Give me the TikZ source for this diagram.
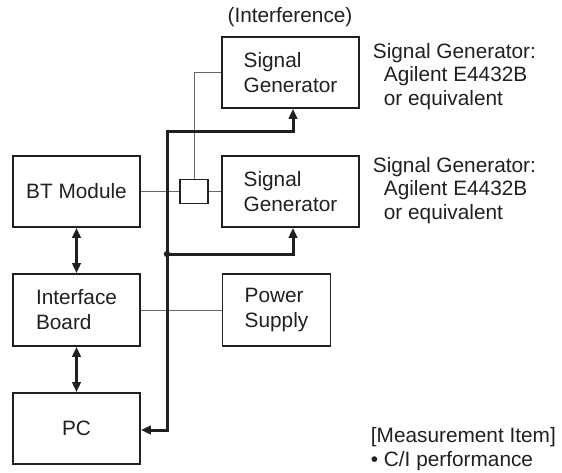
\documentclass[tikz,border=0pt]{standalone}
\usepackage{fontspec}
\setmainfont{Liberation Sans}
\usetikzlibrary{arrows.meta}
\definecolor{ink}{HTML}{231F20}
\newcommand\boxfont{\fontsize{20.8pt}{25pt}\selectfont}
\newcommand\notefont{\fontsize{20.8pt}{23.5pt}\selectfont}
\begin{document}
\begin{tikzpicture}[x=1pt,y=-1pt,
  box/.style={draw=ink, line width=1.8pt, inner sep=0pt, align=left, font=\boxfont, text=ink},
  thinl/.style={draw=black!60, line width=1pt},
  bus/.style={draw=ink, line width=3pt},
  tipa/.tip={Triangle[length=10pt,width=8.5pt]},
  note/.style={font=\notefont, text=ink, align=left, inner sep=0pt, anchor=north west}
]
\useasboundingbox (0,0) rectangle (562,472);

% boxes
\node[box, minimum width=127pt, minimum height=71pt] (bt) at (76.5,191.5) {BT Module};
\node[box, minimum width=127pt, minimum height=72pt] (ib) at (76.5,310) {Interface\\Board};
\node[box, minimum width=127pt, minimum height=71pt] (pc) at (76.5,428.5) {PC};
\node[box, minimum width=108pt, minimum height=72pt] (ps) at (276.5,310) {Power\\Supply};
\node[box, minimum width=137pt, minimum height=71pt] (sg1) at (290.5,72.5) {Signal\\Generator};
\node[box, minimum width=137pt, minimum height=71pt] (sg2) at (290.5,191.5) {Signal\\Generator};
\node[box, minimum width=28pt, minimum height=24pt] (sb) at (194,191.5) {};

% thin connections
\draw[thinl] (bt.east) -- (sb.west);
\draw[thinl] (sb.east) -- (sg2.west);
\draw[thinl] (sb.north) |- (sg1.west);
\draw[thinl] (ib.east) -- (ps.west);

% control bus
\coordinate (j) at (167,254);
\coordinate (c1) at (167,131);
\draw[bus,{tipa}-{tipa}] ([xshift=2.5pt]sg1.south) |- (c1) |- ([yshift=-1.5pt]pc.east);
\draw[bus,-{tipa}] (j) -| ([xshift=2.5pt]sg2.south);
\fill[ink] (j) circle (3.2pt);

% vertical double arrows
\draw[bus,{tipa}-{tipa}] (bt) -- (ib);
\draw[bus,{tipa}-{tipa}] (ib) -- (pc);

% labels
\node[font=\notefont, text=ink] (intf) at (290,17) {(Interference)};
\node[note] (n1) at (372.7,43) {Signal Generator:\\\hspace*{11pt}Agilent E4432B\\\hspace*{11pt}or equivalent};
\node[note] (n2) at (372.7,157) {Signal Generator:\\\hspace*{11pt}Agilent E4432B\\\hspace*{11pt}or equivalent};
\node[note] (mi) at (370.7,427.5) {[Measurement Item]\\• C/I performance};
\end{tikzpicture}
\end{document}
